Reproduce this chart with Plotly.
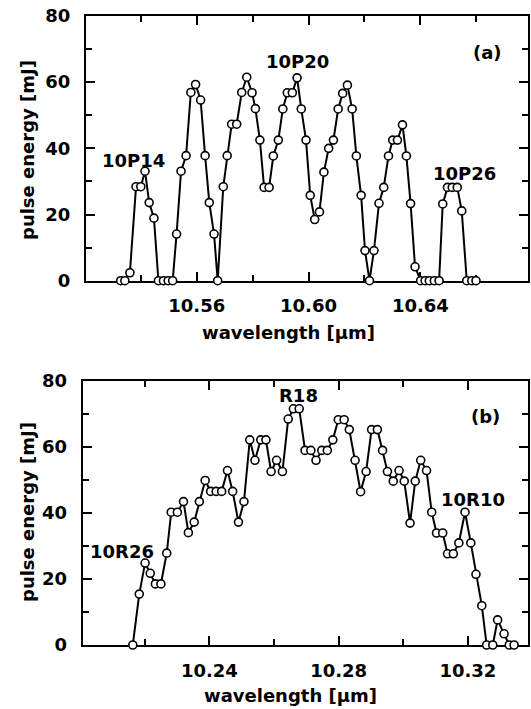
import plotly.graph_objects as go

# ---------------- data ----------------
# panel (a): 10P branch
wl_a = [10.5328, 10.5343, 10.5361, 10.5383, 10.5400, 10.5415, 10.5430, 10.5447,
        10.5463, 10.5481, 10.5498, 10.5514, 10.5528, 10.5544, 10.5562, 10.5579,
        10.5596, 10.5614, 10.5630, 10.5645, 10.5662, 10.5675, 10.5695, 10.5709,
        10.5725, 10.5743, 10.5761, 10.5779, 10.5798, 10.5810, 10.5826, 10.5841,
        10.5859, 10.5874, 10.5892, 10.5908, 10.5924, 10.5942, 10.5959, 10.5974,
        10.5991, 10.6006, 10.6022, 10.6039, 10.6055, 10.6072, 10.6089, 10.6106,
        10.6122, 10.6139, 10.6156, 10.6171, 10.6188, 10.6202, 10.6218, 10.6234,
        10.6252, 10.6269, 10.6286, 10.6301, 10.6318, 10.6336, 10.6350, 10.6365,
        10.6381, 10.6401, 10.6417, 10.6432, 10.6450, 10.6467, 10.6480, 10.6497,
        10.6514, 10.6532, 10.6548, 10.6566, 10.6584, 10.6599]
pe_a = [0, 0, 2.4, 28.4, 28.4, 33.1, 23.6, 18.9,
        0, 0, 0, 0, 14.1, 33.1, 37.8, 56.9,
        59.3, 54.6, 37.8, 23.6, 14.1, 0, 28.4, 37.8,
        47.3, 47.3, 56.9, 61.5, 56.8, 52.0, 42.5, 28.2,
        28.2, 37.7, 42.5, 51.9, 56.8, 56.8, 61.3, 51.9,
        42.5, 25.8, 18.5, 20.8, 32.8, 40.0, 42.5, 51.9,
        56.6, 59.1, 51.9, 37.7, 25.8, 9.1, 0, 9.1,
        23.4, 28.2, 37.7, 42.5, 42.5, 47.1, 37.7, 23.3,
        4.2, 0, 0, 0, 0, 0, 23.2, 28.2,
        28.2, 28.2, 21.1, 0, 0, 0]

# panel (b): 10R branch
wl_b = [10.2163, 10.2183, 10.2201, 10.2217, 10.2233, 10.2250, 10.2268, 10.2282,
        10.2301, 10.2320, 10.2335, 10.2353, 10.2369, 10.2387, 10.2404, 10.2421,
        10.2438, 10.2456, 10.2472, 10.2490, 10.2507, 10.2525, 10.2541, 10.2559,
        10.2575, 10.2591, 10.2608, 10.2626, 10.2644, 10.2660, 10.2678, 10.2696,
        10.2714, 10.2730, 10.2748, 10.2765, 10.2782, 10.2799, 10.2817, 10.2833,
        10.2851, 10.2868, 10.2885, 10.2902, 10.2920, 10.2936, 10.2951, 10.2969,
        10.2987, 10.3003, 10.3021, 10.3037, 10.3054, 10.3072, 10.3088, 10.3103,
        10.3122, 10.3137, 10.3155, 10.3172, 10.3191, 10.3209, 10.3225, 10.3243,
        10.3258, 10.3277, 10.3292, 10.3312, 10.3328, 10.3343]
pe_b = [0, 15.4, 24.8, 21.7, 18.5, 18.5, 27.8, 40.2,
        40.2, 43.4, 34.0, 37.2, 43.4, 49.8, 46.5, 46.5,
        46.5, 52.8, 46.5, 37.2, 43.4, 62.1, 55.9, 62.1,
        62.1, 52.5, 55.9, 52.5, 68.4, 71.5, 71.5, 58.9,
        58.9, 55.9, 58.9, 58.9, 62.1, 68.2, 68.2, 65.2,
        55.9, 46.4, 52.5, 65.2, 65.2, 58.9, 52.5, 49.6,
        52.8, 49.6, 36.9, 49.6, 55.9, 52.8, 40.2, 33.9,
        33.9, 27.6, 27.6, 30.9, 40.2, 30.9, 21.4, 11.9,
        0, 0, 7.6, 3.4, 0, 0]

y_ticks = [0, 20, 40, 60, 80]
x_ticks_a = [10.56, 10.60, 10.64]
x_ticks_b = [10.24, 10.28, 10.32]

labels_a = ["10P14", "10P20", "10P26", "(a)"]
labels_b = ["10R26", "R18", "10R10", "(b)"]
x_title = "wavelength [µm]"
y_title = "pulse energy [mJ]"

# ---------------- layout helpers ----------------
W, H = 531, 709
FONT = dict(family="DejaVu Sans", size=18, color="black", weight="bold")


def fx(p):
    return p / W


def fy(p):
    return 1 - p / H


marker = dict(symbol="circle", size=8, color="white",
              line=dict(color="black", width=1.6))
line = dict(color="black", width=2)

fig = go.Figure()
fig.add_trace(go.Scatter(x=wl_a, y=pe_a, mode="lines+markers", marker=marker,
                         line=line, xaxis="x", yaxis="y", cliponaxis=False,
                         showlegend=False))
fig.add_trace(go.Scatter(x=wl_b, y=pe_b, mode="lines+markers", marker=marker,
                         line=line, xaxis="x2", yaxis="y2", cliponaxis=False,
                         showlegend=False))

common = dict(showgrid=False, zeroline=False, showline=True, linecolor="black",
              linewidth=2, mirror="ticks", ticks="inside", ticklen=9,
              tickwidth=2, tickcolor="black", tickfont=FONT,
              layer="below traces", automargin=False)

fig.update_layout(
    width=W, height=H, autosize=False,
    margin=dict(l=0, r=0, t=0, b=0, pad=0, autoexpand=False),
    paper_bgcolor="white", plot_bgcolor="white",
    xaxis=dict(domain=[fx(86), fx(528)], range=[10.5204, 10.6785],
               anchor="y", tickvals=x_ticks_a, tickformat=".2f",
               minor=dict(dtick=0.02, tick0=10.52, ticks="inside", ticklen=6,
                          tickwidth=2, tickcolor="black"),
               ticklabelstandoff=8, **common),
    yaxis=dict(domain=[fy(280.7), fy(16)], range=[0, 80], anchor="x",
               tickvals=y_ticks,
               minor=dict(dtick=10, tick0=0, ticks="inside", ticklen=6,
                          tickwidth=2, tickcolor="black"),
               ticklabelstandoff=10, **common),
    xaxis2=dict(domain=[fx(82.7), fx(528)], range=[10.2008, 10.3386],
                anchor="y2", tickvals=x_ticks_b, tickformat=".2f",
                minor=dict(dtick=0.02, tick0=10.20, ticks="inside", ticklen=6,
                           tickwidth=2, tickcolor="black"),
                ticklabelstandoff=8, **common),
    yaxis2=dict(domain=[fy(645), fy(380.7)], range=[0, 80], anchor="x2",
                tickvals=y_ticks,
                minor=dict(dtick=10, tick0=0, ticks="inside", ticklen=6,
                           tickwidth=2, tickcolor="black"),
                ticklabelstandoff=10, **common),
)

ann = []
# in-plot labels (pixel positions of text centres)
pos_a = [(133.5, 160), (297.5, 61.5), (464, 173), (487.5, 53)]
pos_b = [(121.7, 551), (298, 395), (473, 499.5), (485, 416)]
for txt, (px, py) in list(zip(labels_a, pos_a)) + list(zip(labels_b, pos_b)):
    ann.append(dict(text=txt, x=fx(px), y=fy(py), xref="paper", yref="paper",
                    showarrow=False, font=FONT, xanchor="center",
                    yanchor="middle"))
# axis titles
for px, py in [(288, 333), (290, 695)]:
    ann.append(dict(text=x_title, x=fx(px), y=fy(py), xref="paper",
                    yref="paper", showarrow=False, font=FONT,
                    xanchor="center", yanchor="middle"))
for px, py in [(27, 150), (27, 512)]:
    ann.append(dict(text=y_title, x=fx(px), y=fy(py), xref="paper",
                    yref="paper", showarrow=False, font=FONT, textangle=-90,
                    xanchor="center", yanchor="middle"))
fig.update_layout(annotations=ann)

fig.write_html("out.html")
